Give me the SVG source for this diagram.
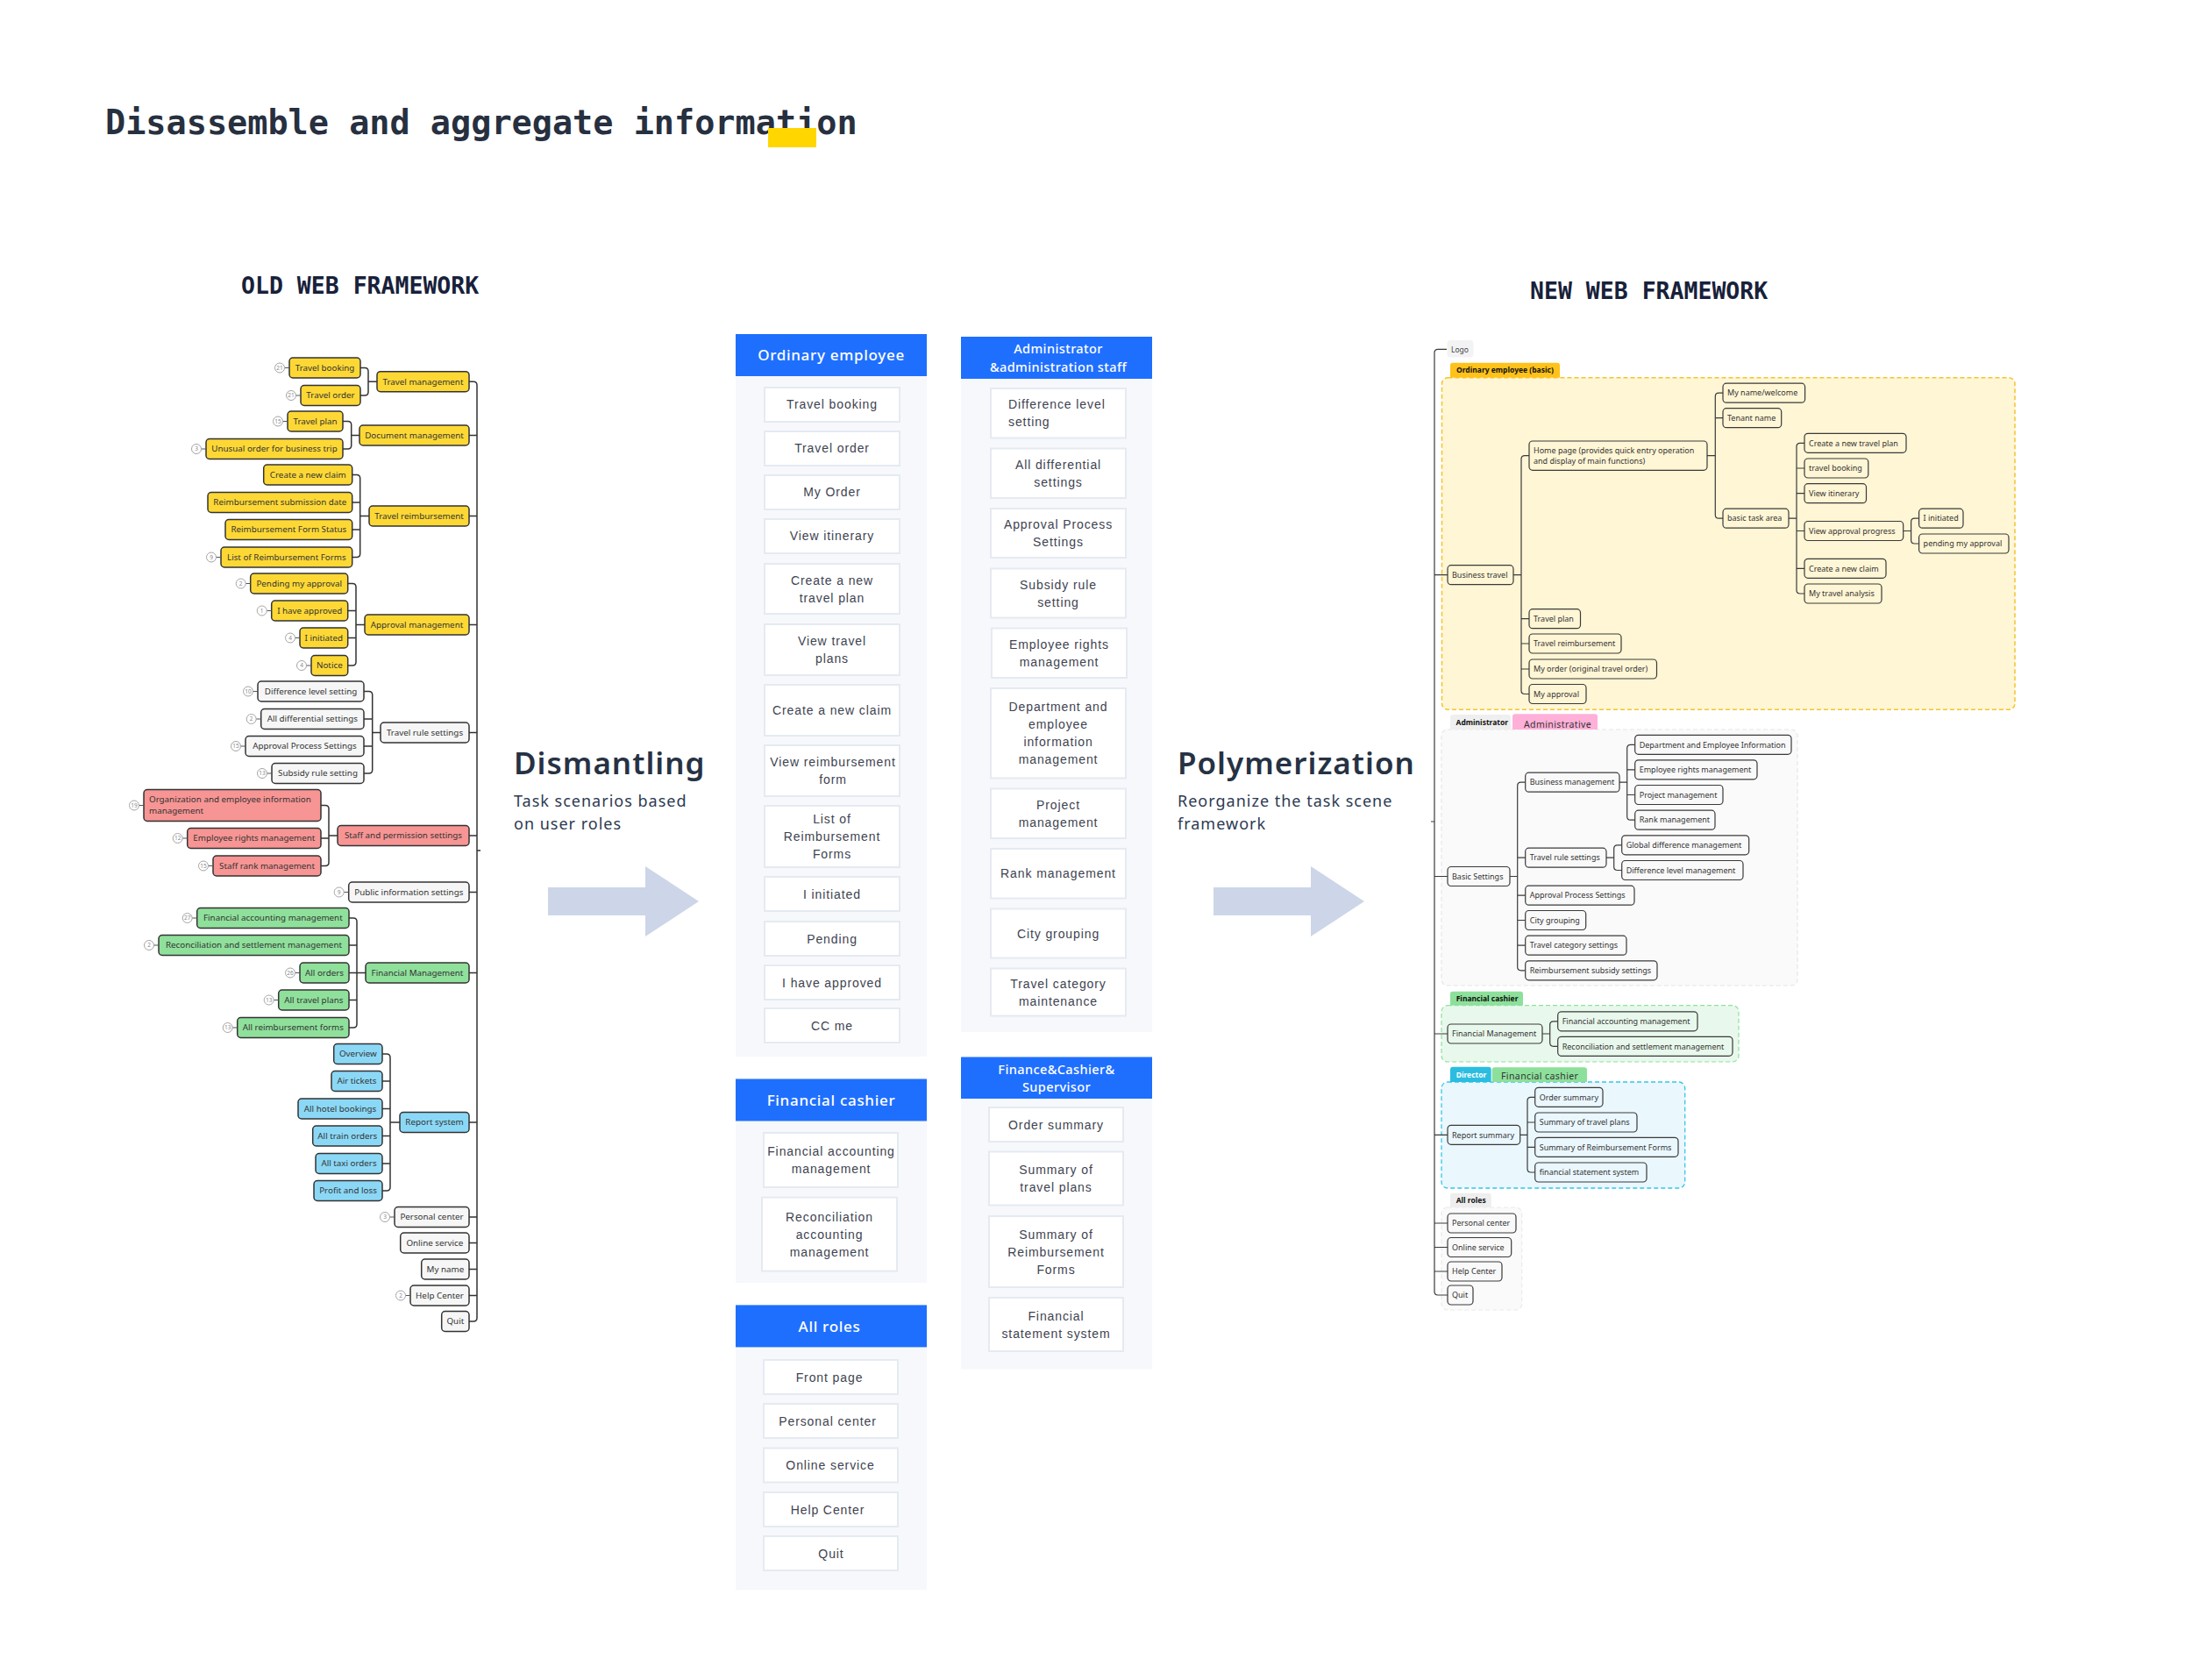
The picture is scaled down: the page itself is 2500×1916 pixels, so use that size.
<svg xmlns="http://www.w3.org/2000/svg" width="2500" height="1916" viewBox="0 0 2500 1916">
<style>
.mono{font-family:"DejaVu Sans Mono","Liberation Mono",monospace;font-weight:bold}
.big{font-family:"Noto Sans","Liberation Sans",sans-serif;font-weight:600;font-size:35px;fill:#263244;letter-spacing:1px}
.sub{font-family:"Noto Sans","Liberation Sans",sans-serif;font-size:18px;fill:#2d3a52;letter-spacing:1px}
.colbg{fill:#f6f8fb}
.colhd{fill:#1f6fff}
.hdt{font-family:"Noto Sans","Liberation Sans",sans-serif;font-weight:500;fill:#fff;text-anchor:middle}
.it rect{fill:#fff;stroke:#e5eaf2;stroke-width:2}
.it text{font-family:"Liberation Sans",Arial,sans-serif;font-size:14px;letter-spacing:0.9px;fill:#3e4350;text-anchor:middle}
.on rect{stroke:#333;stroke-width:1.5}
.on>text{font-family:"Noto Sans","Liberation Sans",sans-serif;font-size:9.8px;fill:#333;text-anchor:middle}
.y rect{fill:#fdd835}.g rect{fill:#f6f6f6}.r rect{fill:#f79594}.gr rect{fill:#8fe09b}.b rect{fill:#8bd8f6}
.bd circle{fill:#fff;stroke:#a5a5a5;stroke-width:1}
.bd line{stroke:#555;stroke-width:1}
.bd text{font-family:"Noto Sans","Liberation Sans",sans-serif;font-size:6.5px;fill:#888;text-anchor:middle}
.conn path{fill:none;stroke:#333;stroke-width:1.5}
.nconn path{fill:none;stroke:#3a3a3a;stroke-width:1.2}
.nn rect{stroke:#3a3a3a;stroke-width:1.2}
.nn text{font-family:"Noto Sans","Liberation Sans",sans-serif;font-size:9px;fill:#333}
.ny rect{fill:#fff6d5}.ng rect{fill:#f9f9f9}.ngr rect{fill:#e9f8ec}.nb rect{fill:#eaf7fd}
.tab{font-family:"Noto Sans","Liberation Sans",sans-serif;font-size:8.5px;font-weight:bold;fill:#111}
.tabr{font-family:"Noto Sans","Liberation Sans",sans-serif;font-size:10.5px;letter-spacing:0.4px;fill:#333}
</style>

<!-- Title -->
<text class="mono" x="120" y="153" font-size="38.5" fill="#27303f">Disassemble and aggregate information</text>
<rect x="876" y="146" width="55" height="22" fill="#ffd600"/>
<text class="mono" x="275" y="335" font-size="26.5" fill="#18213a">OLD WEB FRAMEWORK</text>
<text class="mono" x="1745" y="341" font-size="26.5" fill="#18213a">NEW WEB FRAMEWORK</text>

<!-- Dismantling -->
<text class="big" x="586" y="883">Dismantling</text>
<text class="sub" x="586" y="920">Task scenarios based</text>
<text class="sub" x="586" y="946">on user roles</text>
<polygon points="625,1012 736,1012 736,988 797,1028 736,1068 736,1044 625,1044" fill="#cdd6e8"/>

<!-- Polymerization -->
<text class="big" x="1343" y="883">Polymerization</text>
<text class="sub" x="1343" y="920">Reorganize the task scene</text>
<text class="sub" x="1343" y="946">framework</text>
<polygon points="1384,1012 1495,1012 1495,988 1556,1028 1495,1068 1495,1044 1384,1044" fill="#cdd6e8"/>

<!-- OLD FRAMEWORK connectors -->
<g id="old-connectors" class="conn">
<path d="M411,419.5 H416 Q420,419.5 420,423.5 V447 Q420,451 416,451 H411 M420,435.2 H430"/>
<path d="M391,480.5 H396.7 Q400.7,480.5 400.7,484.5 V508 Q400.7,512 396.7,512 H391 M400.7,496.5 H410"/>
<path d="M401.7,541.5 H406.7 Q410.7,541.5 410.7,545.5 V631.5 Q410.7,635.5 406.7,635.5 H401.7 M401.7,573 H410.7 M401.7,604 H410.7 M410.7,588.5 H421"/>
<path d="M396.7,665.5 H402 Q406,665.5 406,669.5 V755 Q406,759 402,759 H396.7 M396.7,696.5 H406 M396.7,727.5 H406 M406,712.5 H416"/>
<path d="M415,788.5 H420.7 Q424.7,788.5 424.7,792.5 V878 Q424.7,882 420.7,882 H415 M415,820 H424.7 M415,851 H424.7 M424.7,835.5 H434"/>
<path d="M366,918.5 H371 Q375,918.5 375,922.5 V983.5 Q375,987.5 371,987.5 H366 M366,956 H375 M375,953 H385"/>
<path d="M398,1047 H403 Q407,1047 407,1051 V1168 Q407,1172 403,1172 H398 M398,1078 H407 M398,1109.5 H407 M398,1140.5 H407 M407,1109.5 H417"/>
<path d="M436,1202 H441 Q445,1202 445,1206 V1354 Q445,1358 441,1358 H436 M436,1233 H445 M436,1264.5 H445 M436,1295.5 H445 M436,1327 H445 M445,1280 H456"/>
<path d="M535,435.2 H540 Q544,435.2 544,439.2 V1503 Q544,1507 540,1507 H535 M535,496.5 H544 M535,588.5 H544 M535,712.5 H544 M535,835.5 H544 M535,953 H544 M535,1017.5 H544 M535,1109.5 H544 M535,1280 H544 M535,1388 H544 M535,1417.5 H544 M535,1447.5 H544 M535,1477.5 H544 M544,970 H548"/>
</g>

<!-- OLD FRAMEWORK nodes -->
<g id="old-travel-booking" class="on y"><rect x="330" y="408" width="81" height="23" rx="4"/><text x="370.5" y="422.9">Travel booking</text><g class="bd"><line x1="324.5" y1="419.5" x2="330" y2="419.5"/><circle cx="319" cy="419.5" r="5.5"/><text x="319" y="421.7">21</text></g></g>
<g id="old-travel-order" class="on y"><rect x="343" y="439.5" width="68" height="23" rx="4"/><text x="377" y="454.4">Travel order</text><g class="bd"><line x1="337.5" y1="451" x2="343" y2="451"/><circle cx="332" cy="451" r="5.5"/><text x="332" y="453.2">21</text></g></g>
<g id="old-travel-management" class="on y"><rect x="430" y="423.7" width="105" height="23" rx="4"/><text x="482.5" y="438.6">Travel management</text></g>
<g id="old-travel-plan" class="on y"><rect x="328" y="469" width="63" height="23" rx="4"/><text x="359.5" y="483.9">Travel plan</text><g class="bd"><line x1="322.5" y1="480.5" x2="328" y2="480.5"/><circle cx="317" cy="480.5" r="5.5"/><text x="317" y="482.7">15</text></g></g>
<g id="old-unusual-order" class="on y"><rect x="235" y="500.5" width="156" height="23" rx="4"/><text x="313" y="515.4">Unusual order for business trip</text><g class="bd"><line x1="229.5" y1="512" x2="235" y2="512"/><circle cx="224" cy="512" r="5.5"/><text x="224" y="514.2">3</text></g></g>
<g id="old-document-management" class="on y"><rect x="410" y="485" width="125" height="23" rx="4"/><text x="472.5" y="499.9">Document management</text></g>
<g id="old-create-claim" class="on y"><rect x="300.7" y="530" width="101" height="23" rx="4"/><text x="351.2" y="544.9">Create a new claim</text></g>
<g id="old-reimb-date" class="on y"><rect x="237" y="561.5" width="164.7" height="23" rx="4"/><text x="319.35" y="576.4">Reimbursement submission date</text></g>
<g id="old-reimb-status" class="on y"><rect x="257" y="592.5" width="144.7" height="23" rx="4"/><text x="329.35" y="607.4">Reimbursement Form Status</text></g>
<g id="old-reimb-list" class="on y"><rect x="252" y="624" width="149.7" height="23" rx="4"/><text x="326.85" y="638.9">List of Reimbursement Forms</text><g class="bd"><line x1="246.5" y1="635.5" x2="252" y2="635.5"/><circle cx="241" cy="635.5" r="5.5"/><text x="241" y="637.7">9</text></g></g>
<g id="old-travel-reimbursement" class="on y"><rect x="421" y="577" width="114" height="23" rx="4"/><text x="478" y="591.9">Travel reimbursement</text></g>
<g id="old-pending" class="on y"><rect x="285.7" y="654" width="111" height="23" rx="4"/><text x="341.2" y="668.9">Pending my approval</text><g class="bd"><line x1="280.2" y1="665.5" x2="285.7" y2="665.5"/><circle cx="274.7" cy="665.5" r="5.5"/><text x="274.7" y="667.7">2</text></g></g>
<g id="old-approved" class="on y"><rect x="309.7" y="685" width="87" height="23" rx="4"/><text x="353.2" y="699.9">I have approved</text><g class="bd"><line x1="304.2" y1="696.5" x2="309.7" y2="696.5"/><circle cx="298.7" cy="696.5" r="5.5"/><text x="298.7" y="698.7">1</text></g></g>
<g id="old-initiated" class="on y"><rect x="342" y="716" width="54.7" height="23" rx="4"/><text x="369.35" y="730.9">I initiated</text><g class="bd"><line x1="336.5" y1="727.5" x2="342" y2="727.5"/><circle cx="331" cy="727.5" r="5.5"/><text x="331" y="729.7">4</text></g></g>
<g id="old-notice" class="on y"><rect x="355" y="747.5" width="41.7" height="23" rx="4"/><text x="375.85" y="762.4">Notice</text><g class="bd"><line x1="349.5" y1="759" x2="355" y2="759"/><circle cx="344" cy="759" r="5.5"/><text x="344" y="761.2">4</text></g></g>
<g id="old-approval-management" class="on y"><rect x="416" y="701" width="119" height="23" rx="4"/><text x="475.5" y="715.9">Approval management</text></g>
<g id="old-diff-level" class="on g"><rect x="294" y="777" width="121" height="23" rx="4"/><text x="354.5" y="791.9">Difference level setting</text><g class="bd"><line x1="288.5" y1="788.5" x2="294" y2="788.5"/><circle cx="283" cy="788.5" r="5.5"/><text x="283" y="790.7">10</text></g></g>
<g id="old-all-diff" class="on g"><rect x="297.7" y="808.5" width="117.3" height="23" rx="4"/><text x="356.35" y="823.4">All differential settings</text><g class="bd"><line x1="292.2" y1="820" x2="297.7" y2="820"/><circle cx="286.7" cy="820" r="5.5"/><text x="286.7" y="822.2">2</text></g></g>
<g id="old-approval-process" class="on g"><rect x="280" y="839.5" width="135" height="23" rx="4"/><text x="347.5" y="854.4">Approval Process Settings</text><g class="bd"><line x1="274.5" y1="851" x2="280" y2="851"/><circle cx="269" cy="851" r="5.5"/><text x="269" y="853.2">15</text></g></g>
<g id="old-subsidy" class="on g"><rect x="310" y="870.5" width="105" height="23" rx="4"/><text x="362.5" y="885.4">Subsidy rule setting</text><g class="bd"><line x1="304.5" y1="882" x2="310" y2="882"/><circle cx="299" cy="882" r="5.5"/><text x="299" y="884.2">13</text></g></g>
<g id="old-travel-rule" class="on g"><rect x="434" y="824" width="101" height="23" rx="4"/><text x="484.5" y="838.9">Travel rule settings</text></g>
<g id="old-org-info" class="on r"><rect x="164" y="900.5" width="202" height="36" rx="4"/><text x="170" y="915" style="text-anchor:start">Organization and employee information</text><text x="170" y="928" style="text-anchor:start">management</text><g class="bd"><line x1="158.5" y1="918.5" x2="164" y2="918.5"/><circle cx="153" cy="918.5" r="5.5"/><text x="153" y="920.7">19</text></g></g>
<g id="old-emp-rights" class="on r"><rect x="213.7" y="944.5" width="152.3" height="23" rx="4"/><text x="289.85" y="959.4">Employee rights management</text><g class="bd"><line x1="208.2" y1="956" x2="213.7" y2="956"/><circle cx="202.7" cy="956" r="5.5"/><text x="202.7" y="958.2">12</text></g></g>
<g id="old-staff-rank" class="on r"><rect x="243" y="976" width="123" height="23" rx="4"/><text x="304.5" y="990.9">Staff rank management</text><g class="bd"><line x1="237.5" y1="987.5" x2="243" y2="987.5"/><circle cx="232" cy="987.5" r="5.5"/><text x="232" y="989.7">15</text></g></g>
<g id="old-staff-permission" class="on r"><rect x="385" y="941.5" width="150" height="23" rx="4"/><text x="460" y="956.4">Staff and permission settings</text></g>
<g id="old-public-info" class="on g"><rect x="397.7" y="1006" width="137.3" height="23" rx="4"/><text x="466.35" y="1020.9">Public information settings</text><g class="bd"><line x1="392.2" y1="1017.5" x2="397.7" y2="1017.5"/><circle cx="386.7" cy="1017.5" r="5.5"/><text x="386.7" y="1019.7">9</text></g></g>
<g id="old-fin-accounting" class="on gr"><rect x="224.7" y="1035.5" width="173.3" height="23" rx="4"/><text x="311.35" y="1050.4">Financial accounting management</text><g class="bd"><line x1="219.2" y1="1047" x2="224.7" y2="1047"/><circle cx="213.7" cy="1047" r="5.5"/><text x="213.7" y="1049.2">27</text></g></g>
<g id="old-reconciliation" class="on gr"><rect x="181" y="1066.5" width="217" height="23" rx="4"/><text x="289.5" y="1081.4">Reconciliation and settlement management</text><g class="bd"><line x1="175.5" y1="1078" x2="181" y2="1078"/><circle cx="170" cy="1078" r="5.5"/><text x="170" y="1080.2">2</text></g></g>
<g id="old-all-orders" class="on gr"><rect x="342" y="1098" width="56" height="23" rx="4"/><text x="370" y="1112.9">All orders</text><g class="bd"><line x1="336.5" y1="1109.5" x2="342" y2="1109.5"/><circle cx="331" cy="1109.5" r="5.5"/><text x="331" y="1111.7">26</text></g></g>
<g id="old-all-travel-plans" class="on gr"><rect x="317.7" y="1129" width="80.3" height="23" rx="4"/><text x="357.85" y="1143.9">All travel plans</text><g class="bd"><line x1="312.2" y1="1140.5" x2="317.7" y2="1140.5"/><circle cx="306.7" cy="1140.5" r="5.5"/><text x="306.7" y="1142.7">13</text></g></g>
<g id="old-all-reimb-forms" class="on gr"><rect x="270.7" y="1160.5" width="127.3" height="23" rx="4"/><text x="334.35" y="1175.4">All reimbursement forms</text><g class="bd"><line x1="265.2" y1="1172" x2="270.7" y2="1172"/><circle cx="259.7" cy="1172" r="5.5"/><text x="259.7" y="1174.2">13</text></g></g>
<g id="old-fin-management" class="on gr"><rect x="417" y="1098" width="118" height="23" rx="4"/><text x="476" y="1112.9">Financial Management</text></g>
<g id="old-overview" class="on b"><rect x="380.7" y="1190.5" width="55.3" height="23" rx="4"/><text x="408.35" y="1205.4">Overview</text></g>
<g id="old-air-tickets" class="on b"><rect x="378" y="1221.5" width="58" height="23" rx="4"/><text x="407" y="1236.4">Air tickets</text></g>
<g id="old-hotel" class="on b"><rect x="340" y="1253" width="96" height="23" rx="4"/><text x="388" y="1267.9">All hotel bookings</text></g>
<g id="old-train" class="on b"><rect x="356.7" y="1284" width="79.3" height="23" rx="4"/><text x="396.35" y="1298.9">All train orders</text></g>
<g id="old-taxi" class="on b"><rect x="360" y="1315.5" width="76" height="23" rx="4"/><text x="398" y="1330.4">All taxi orders</text></g>
<g id="old-profit" class="on b"><rect x="358" y="1346.5" width="78" height="23" rx="4"/><text x="397" y="1361.4">Profit and loss</text></g>
<g id="old-report-system" class="on b"><rect x="456" y="1268.5" width="79" height="23" rx="4"/><text x="495.5" y="1283.4">Report system</text></g>
<g id="old-personal-center" class="on g"><rect x="450" y="1376.5" width="85" height="23" rx="4"/><text x="492.5" y="1391.4">Personal center</text><g class="bd"><line x1="444.5" y1="1388" x2="450" y2="1388"/><circle cx="439" cy="1388" r="5.5"/><text x="439" y="1390.2">3</text></g></g>
<g id="old-online-service" class="on g"><rect x="456.7" y="1406" width="78.3" height="23" rx="4"/><text x="495.85" y="1420.9">Online service</text></g>
<g id="old-my-name" class="on g"><rect x="480.7" y="1436" width="54.3" height="23" rx="4"/><text x="507.85" y="1450.9">My name</text></g>
<g id="old-help-center" class="on g"><rect x="468" y="1466" width="67" height="23" rx="4"/><text x="501.5" y="1480.9">Help Center</text><g class="bd"><line x1="462.5" y1="1477.5" x2="468" y2="1477.5"/><circle cx="457" cy="1477.5" r="5.5"/><text x="457" y="1479.7">2</text></g></g>
<g id="old-quit" class="on g"><rect x="503.7" y="1495.5" width="31.3" height="23" rx="4"/><text x="519.35" y="1510.4">Quit</text></g>

<!-- MIDDLE COLUMNS -->
<g id="col-ordinary-employee">
<rect class="colbg" x="839" y="381" width="218" height="824"/>
<rect class="colhd" x="839" y="381" width="218" height="48"/>
<text class="hdt" x="948" y="411" font-size="17" letter-spacing="0.7">Ordinary employee</text>
<g class="it"><rect x="872" y="442" width="154" height="39"/><text x="949" y="466">Travel booking</text></g>
<g class="it"><rect x="872" y="492" width="154" height="39"/><text x="949" y="516">Travel order</text></g>
<g class="it"><rect x="872" y="542" width="154" height="39"/><text x="949" y="566">My Order</text></g>
<g class="it"><rect x="872" y="592" width="154" height="39"/><text x="949" y="616">View itinerary</text></g>
<g class="it"><rect x="872" y="643" width="154" height="57"/><text x="949" y="666.5">Create a new</text><text x="949" y="686.5">travel plan</text></g>
<g class="it"><rect x="872" y="712" width="154" height="58"/><text x="949" y="736">View travel</text><text x="949" y="756">plans</text></g>
<g class="it"><rect x="872" y="781" width="154" height="58"/><text x="949" y="815">Create a new claim</text></g>
<g class="it"><rect x="872" y="850" width="154" height="58"/><text x="950" y="874">View reimbursement</text><text x="950" y="894">form</text></g>
<g class="it"><rect x="872" y="919" width="154" height="70"/><text x="949" y="939">List of</text><text x="949" y="959">Reimbursement</text><text x="949" y="979">Forms</text></g>
<g class="it"><rect x="872" y="1000" width="154" height="39"/><text x="949" y="1024.5">I initiated</text></g>
<g class="it"><rect x="872" y="1051" width="154" height="39"/><text x="949" y="1075.5">Pending</text></g>
<g class="it"><rect x="872" y="1101" width="154" height="39"/><text x="949" y="1125.5">I have approved</text></g>
<g class="it"><rect x="872" y="1150" width="154" height="39"/><text x="949" y="1174.5">CC me</text></g>
</g>

<g id="col-financial-cashier">
<rect class="colbg" x="839" y="1230.5" width="218" height="232.5"/>
<rect class="colhd" x="839" y="1230.5" width="218" height="48"/>
<text class="hdt" x="948" y="1260.5" font-size="17" letter-spacing="0.7">Financial cashier</text>
<g class="it"><rect x="871" y="1292" width="153" height="62"/><text x="948" y="1318">Financial accounting</text><text x="948" y="1338">management</text></g>
<g class="it"><rect x="869" y="1365.6" width="154" height="84"/><text x="946" y="1392.6">Reconciliation</text><text x="946" y="1412.6">accounting</text><text x="946" y="1432.6">management</text></g>
</g>

<g id="col-all-roles">
<rect class="colbg" x="839" y="1488.4" width="218" height="325"/>
<rect class="colhd" x="839" y="1488.4" width="218" height="48"/>
<text class="hdt" x="946" y="1518.5" font-size="17" letter-spacing="0.7">All roles</text>
<g class="it"><rect x="871" y="1551" width="153" height="39"/><text x="946" y="1575.5">Front page</text></g>
<g class="it"><rect x="871" y="1601" width="153" height="39"/><text x="944" y="1625.5">Personal center</text></g>
<g class="it"><rect x="871" y="1651.5" width="153" height="39"/><text x="947" y="1676">Online service</text></g>
<g class="it"><rect x="871" y="1702" width="153" height="39"/><text x="944" y="1726.5">Help Center</text></g>
<g class="it"><rect x="871" y="1752" width="153" height="39"/><text x="948" y="1776.5">Quit</text></g>
</g>

<g id="col-administrator">
<rect class="colbg" x="1096" y="384" width="218" height="793"/>
<rect class="colhd" x="1096" y="384" width="218" height="48"/>
<text class="hdt" x="1207" y="403" font-size="14.5" letter-spacing="0.4">Administrator</text>
<text class="hdt" x="1207" y="423.5" font-size="14.5" letter-spacing="0.4">&amp;administration staff</text>
<g class="it"><rect x="1130" y="443" width="154" height="56.5"/><text x="1150" y="466" style="text-anchor:start">Difference level</text><text x="1150" y="486" style="text-anchor:start">setting</text></g>
<g class="it"><rect x="1130" y="511.5" width="154" height="56.5"/><text x="1207" y="534.7">All differential</text><text x="1207" y="554.7">settings</text></g>
<g class="it"><rect x="1130" y="580" width="154" height="56"/><text x="1207" y="603">Approval Process</text><text x="1207" y="623">Settings</text></g>
<g class="it"><rect x="1130" y="648.5" width="154" height="56"/><text x="1207" y="671.5">Subsidy rule</text><text x="1207" y="691.5">setting</text></g>
<g class="it"><rect x="1131" y="716.5" width="154" height="56.5"/><text x="1208" y="739.7">Employee rights</text><text x="1208" y="759.7">management</text></g>
<g class="it"><rect x="1130" y="785" width="154" height="102.5"/><text x="1207" y="811.2">Department and</text><text x="1207" y="831.2">employee</text><text x="1207" y="851.2">information</text><text x="1207" y="871.2">management</text></g>
<g class="it"><rect x="1130" y="899.5" width="154" height="56.5"/><text x="1207" y="922.7">Project</text><text x="1207" y="942.7">management</text></g>
<g class="it"><rect x="1130" y="968" width="154" height="56.5"/><text x="1207" y="1001.2">Rank management</text></g>
<g class="it"><rect x="1130" y="1036.5" width="154" height="56"/><text x="1207" y="1069.5">City grouping</text></g>
<g class="it"><rect x="1130" y="1104.5" width="154" height="54"/><text x="1207" y="1126.5">Travel category</text><text x="1207" y="1146.5">maintenance</text></g>
</g>

<g id="col-finance-supervisor">
<rect class="colbg" x="1096" y="1205.5" width="218" height="356"/>
<rect class="colhd" x="1096" y="1205.5" width="218" height="47.5"/>
<text class="hdt" x="1205" y="1224.5" font-size="14.5" letter-spacing="0.4">Finance&amp;Cashier&amp;</text>
<text class="hdt" x="1205" y="1244.5" font-size="14.5" letter-spacing="0.4">Supervisor</text>
<g class="it"><rect x="1128" y="1263" width="153" height="39"/><text x="1204.5" y="1287.5">Order summary</text></g>
<g class="it"><rect x="1128" y="1313.5" width="153" height="61"/><text x="1204.5" y="1339">Summary of</text><text x="1204.5" y="1359">travel plans</text></g>
<g class="it"><rect x="1128" y="1387" width="153" height="81"/><text x="1204.5" y="1412.5">Summary of</text><text x="1204.5" y="1432.5">Reimbursement</text><text x="1204.5" y="1452.5">Forms</text></g>
<g class="it"><rect x="1128" y="1480" width="153" height="61"/><text x="1204.5" y="1505.5">Financial</text><text x="1204.5" y="1525.5">statement system</text></g>
</g>

<!-- NEW FRAMEWORK containers and tabs -->
<g id="new-containers">
<rect x="1644.5" y="430.7" width="653.5" height="378.6" rx="7" fill="#fff6d5" stroke="#f6c230" stroke-width="1.5" stroke-dasharray="5,3"/>
<path d="M1654,430.7 V416.7 Q1654,413.7 1657,413.7 H1776 Q1779,413.7 1779,416.7 V430.7 Z" fill="#ffc21a"/>
<text class="tab" x="1661" y="425.3">Ordinary employee (basic)</text>

<rect x="1644" y="832" width="406" height="292" rx="7" fill="#fafafa" stroke="#e6e6e6" stroke-width="1.2" stroke-dasharray="5,3"/>
<path d="M1654,832 V818 Q1654,815 1657,815 H1720 Q1723,815 1723,818 V832 Z" fill="#efefef"/>
<text class="tab" x="1660.5" y="826.7">Administrator</text>
<path d="M1725,832 V817.3 Q1725,814.3 1728,814.3 H1819 Q1822,814.3 1822,817.3 V832 Z" fill="#ffb0d8"/>
<text class="tabr" x="1738" y="829.5">Administrative</text>

<rect x="1644" y="1146.7" width="339" height="64.3" rx="7" fill="#e9f8ec" stroke="#8de29e" stroke-width="1.2" stroke-dasharray="5,3"/>
<path d="M1654,1146.7 V1133.7 Q1654,1130.7 1657,1130.7 H1734 Q1737,1130.7 1737,1133.7 V1146.7 Z" fill="#8de09b"/>
<text class="tab" x="1660.7" y="1141.7">Financial cashier</text>

<rect x="1644" y="1234" width="277.7" height="121" rx="7" fill="#eaf7fd" stroke="#35c6ea" stroke-width="1.3" stroke-dasharray="5,3"/>
<path d="M1654,1234 V1219.7 Q1654,1216.7 1657,1216.7 H1697.7 Q1700.7,1216.7 1700.7,1219.7 V1234 Z" fill="#2bbde0"/>
<text class="tab" x="1660.7" y="1228.7" style="fill:#fff">Director</text>
<path d="M1701.7,1234 V1220.3 Q1701.7,1217.3 1704.7,1217.3 H1807 Q1810,1217.3 1810,1220.3 V1234 Z" fill="#8de09b"/>
<text class="tabr" x="1712" y="1230.5">Financial cashier</text>

<rect x="1644" y="1377" width="91.7" height="117" rx="7" fill="#fafafa" stroke="#eaeaea" stroke-width="1.2" stroke-dasharray="5,3"/>
<path d="M1654,1377 V1363.7 Q1654,1360.7 1657,1360.7 H1697.7 Q1700.7,1360.7 1700.7,1363.7 V1377 Z" fill="#eeeeee"/>
<text class="tab" x="1660.7" y="1372">All roles</text>
</g>

<!-- NEW FRAMEWORK connectors -->
<g id="new-connectors" class="nconn">
<path d="M1650,398.3 H1640 Q1636,398.3 1636,402.3 V1473 Q1636,1477 1640,1477 H1651 M1636,655.7 H1651 M1636,999.5 H1651 M1636,1179 H1651 M1636,1294.3 H1651 M1636,1395 H1651 M1636,1422.5 H1651 M1636,1450 H1651 M1632,937 H1636"/>
<path d="M1726,655.7 H1735 M1744,519.7 H1739 Q1735,519.7 1735,523.7 V787.5 Q1735,791.5 1739,791.5 H1744 M1735,705.7 H1744 M1735,734 H1744 M1735,763 H1744"/>
<path d="M1947,519.7 H1956.3 M1965,448.2 H1960.3 Q1956.3,448.2 1956.3,452.2 V587.2 Q1956.3,591.2 1960.3,591.2 H1965 M1956.3,476.7 H1965"/>
<path d="M2040,591.2 H2049 M2058,505.3 H2053 Q2049,505.3 2049,509.3 V673 Q2049,677 2053,677 H2058 M2049,534 H2058 M2049,562.7 H2058 M2049,605.5 H2058 M2049,648.3 H2058"/>
<path d="M2170.7,605.5 H2179.6 M2188.6,591.2 H2183.6 Q2179.6,591.2 2179.6,595.2 V616 Q2179.6,620 2183.6,620 H2188.6"/>
<path d="M1722,999.5 H1730.7 M1739.7,892.2 H1734.7 Q1730.7,892.2 1730.7,896.2 V1102.8 Q1730.7,1106.8 1734.7,1106.8 H1739.7 M1730.7,978.2 H1739.7 M1730.7,1021.2 H1739.7 M1730.7,1049.5 H1739.7 M1730.7,1078.2 H1739.7"/>
<path d="M1847,892.2 H1855.7 M1864.7,849.3 H1859.7 Q1855.7,849.3 1855.7,853.3 V931.2 Q1855.7,935.2 1859.7,935.2 H1864.7 M1855.7,877.8 H1864.7 M1855.7,906.5 H1864.7"/>
<path d="M1832,978.2 H1840.7 M1849.7,963.8 H1844.7 Q1840.7,963.8 1840.7,967.8 V988.5 Q1840.7,992.5 1844.7,992.5 H1849.7"/>
<path d="M1759,1179 H1767.7 M1776.7,1164.8 H1771.7 Q1767.7,1164.8 1767.7,1168.8 V1189.3 Q1767.7,1193.3 1771.7,1193.3 H1776.7"/>
<path d="M1733.7,1294.3 H1742 M1750.7,1251.3 H1746 Q1742,1251.3 1742,1255.3 V1333 Q1742,1337 1746,1337 H1750.7 M1742,1280 H1750.7 M1742,1308.3 H1750.7"/>
</g>

<!-- NEW FRAMEWORK nodes -->
<g id="new-logo"><rect x="1650.5" y="388" width="30" height="19.5" rx="4" fill="#f3f3f3"/><text x="1655" y="401.5" font-family="Noto Sans, Liberation Sans, sans-serif" font-size="8.5" fill="#444">Logo</text></g>
<g id="new-business-travel" class="nn ny"><rect x="1651" y="644.7" width="75" height="22" rx="4"/><text x="1656" y="658.9">Business travel</text></g>
<g id="new-home-page" class="nn ny"><rect x="1744" y="503" width="203" height="33.3" rx="4"/><text x="1749" y="517">Home page (provides quick entry operation</text><text x="1749" y="528.7">and display of main functions)</text></g>
<g id="new-my-name" class="nn ny"><rect x="1965" y="437.2" width="93.6" height="22" rx="4"/><text x="1970" y="451.4">My name/welcome</text></g>
<g id="new-tenant" class="nn ny"><rect x="1965" y="465.7" width="66.7" height="22" rx="4"/><text x="1970" y="479.9">Tenant name</text></g>
<g id="new-basic-task" class="nn ny"><rect x="1965" y="580.2" width="75" height="22" rx="4"/><text x="1970" y="594.4">basic task area</text></g>
<g id="new-create-plan" class="nn ny"><rect x="2058" y="494.3" width="116" height="22" rx="4"/><text x="2063" y="508.5">Create a new travel plan</text></g>
<g id="new-travel-booking" class="nn ny"><rect x="2058" y="523" width="72.8" height="22" rx="4"/><text x="2063" y="537.2">travel booking</text></g>
<g id="new-view-itinerary" class="nn ny"><rect x="2058" y="551.7" width="70.5" height="22" rx="4"/><text x="2063" y="565.9">View itinerary</text></g>
<g id="new-view-approval" class="nn ny"><rect x="2058" y="594.5" width="112.7" height="22" rx="4"/><text x="2063" y="608.7">View approval progress</text></g>
<g id="new-create-claim" class="nn ny"><rect x="2058" y="637.3" width="93" height="22" rx="4"/><text x="2063" y="651.5">Create a new claim</text></g>
<g id="new-travel-analysis" class="nn ny"><rect x="2058" y="666" width="88" height="22" rx="4"/><text x="2063" y="680.2">My travel analysis</text></g>
<g id="new-i-initiated" class="nn ny"><rect x="2188.6" y="580.2" width="50.4" height="22" rx="4"/><text x="2193.6" y="594.4">I initiated</text></g>
<g id="new-pending" class="nn ny"><rect x="2188.6" y="609" width="102.4" height="22" rx="4"/><text x="2193.6" y="623.2">pending my approval</text></g>
<g id="new-travel-plan" class="nn ny"><rect x="1744" y="694.7" width="58.5" height="22" rx="4"/><text x="1749" y="708.9">Travel plan</text></g>
<g id="new-travel-reimb" class="nn ny"><rect x="1744" y="723" width="105" height="22" rx="4"/><text x="1749" y="737.2">Travel reimbursement</text></g>
<g id="new-my-order" class="nn ny"><rect x="1744" y="752" width="145.5" height="22" rx="4"/><text x="1749" y="766.2">My order (original travel order)</text></g>
<g id="new-my-approval" class="nn ny"><rect x="1744" y="780.5" width="65" height="22" rx="4"/><text x="1749" y="794.7">My approval</text></g>

<g id="new-basic-settings" class="nn ng"><rect x="1651" y="988.5" width="71" height="22" rx="4"/><text x="1656" y="1002.7">Basic Settings</text></g>
<g id="new-business-mgmt" class="nn ng"><rect x="1739.7" y="881.2" width="107.3" height="22" rx="4"/><text x="1744.7" y="895.4">Business management</text></g>
<g id="new-travel-rule" class="nn ng"><rect x="1739.7" y="967.2" width="92.3" height="22" rx="4"/><text x="1744.7" y="981.4">Travel rule settings</text></g>
<g id="new-approval-process" class="nn ng"><rect x="1739.7" y="1010.2" width="124.3" height="22" rx="4"/><text x="1744.7" y="1024.4">Approval Process Settings</text></g>
<g id="new-city-grouping" class="nn ng"><rect x="1739.7" y="1038.5" width="69" height="22" rx="4"/><text x="1744.7" y="1052.7">City grouping</text></g>
<g id="new-travel-category" class="nn ng"><rect x="1739.7" y="1067.2" width="115.3" height="22" rx="4"/><text x="1744.7" y="1081.4">Travel category settings</text></g>
<g id="new-reimb-subsidy" class="nn ng"><rect x="1739.7" y="1095.8" width="150.3" height="22" rx="4"/><text x="1744.7" y="1110">Reimbursement subsidy settings</text></g>
<g id="new-dept-info" class="nn ng"><rect x="1864.7" y="838.3" width="178.3" height="22" rx="4"/><text x="1869.7" y="852.5">Department and Employee Information</text></g>
<g id="new-emp-rights" class="nn ng"><rect x="1864.7" y="866.8" width="139.3" height="22" rx="4"/><text x="1869.7" y="881">Employee rights management</text></g>
<g id="new-project-mgmt" class="nn ng"><rect x="1864.7" y="895.5" width="100.3" height="22" rx="4"/><text x="1869.7" y="909.7">Project management</text></g>
<g id="new-rank-mgmt" class="nn ng"><rect x="1864.7" y="924.2" width="91.3" height="22" rx="4"/><text x="1869.7" y="938.4">Rank management</text></g>
<g id="new-global-diff" class="nn ng"><rect x="1849.7" y="952.8" width="145" height="22" rx="4"/><text x="1854.7" y="967">Global difference management</text></g>
<g id="new-diff-level" class="nn ng"><rect x="1849.7" y="981.5" width="138.3" height="22" rx="4"/><text x="1854.7" y="995.7">Difference level management</text></g>

<g id="new-fin-mgmt" class="nn ngr"><rect x="1651" y="1168" width="108" height="22" rx="4"/><text x="1656" y="1182.2">Financial Management</text></g>
<g id="new-fin-accounting" class="nn ngr"><rect x="1776.7" y="1153.8" width="159.3" height="22" rx="4"/><text x="1781.7" y="1168">Financial accounting management</text></g>
<g id="new-reconciliation" class="nn ngr"><rect x="1776.7" y="1182.3" width="199.3" height="22" rx="4"/><text x="1781.7" y="1196.5">Reconciliation and settlement management</text></g>

<g id="new-report-summary" class="nn nb"><rect x="1651" y="1283.3" width="82.7" height="22" rx="4"/><text x="1656" y="1297.5">Report summary</text></g>
<g id="new-order-summary" class="nn nb"><rect x="1750.7" y="1240.3" width="77.3" height="22" rx="4"/><text x="1755.7" y="1254.5">Order summary</text></g>
<g id="new-summary-plans" class="nn nb"><rect x="1750.7" y="1269" width="116.3" height="22" rx="4"/><text x="1755.7" y="1283.2">Summary of travel plans</text></g>
<g id="new-summary-reimb" class="nn nb"><rect x="1750.7" y="1297.3" width="163.3" height="22" rx="4"/><text x="1755.7" y="1311.5">Summary of Reimbursement Forms</text></g>
<g id="new-fin-statement" class="nn nb"><rect x="1750.7" y="1326" width="127.3" height="22" rx="4"/><text x="1755.7" y="1340.2">financial statement system</text></g>

<g id="new-personal-center" class="nn ng"><rect x="1651" y="1384" width="78" height="22" rx="4"/><text x="1656" y="1398.2">Personal center</text></g>
<g id="new-online-service" class="nn ng"><rect x="1651" y="1411.5" width="72.7" height="22" rx="4"/><text x="1656" y="1425.7">Online service</text></g>
<g id="new-help-center" class="nn ng"><rect x="1651" y="1439" width="62" height="22" rx="4"/><text x="1656" y="1453.2">Help Center</text></g>
<g id="new-quit" class="nn ng"><rect x="1651" y="1466" width="29" height="22" rx="4"/><text x="1656" y="1480.2">Quit</text></g>
</svg>
